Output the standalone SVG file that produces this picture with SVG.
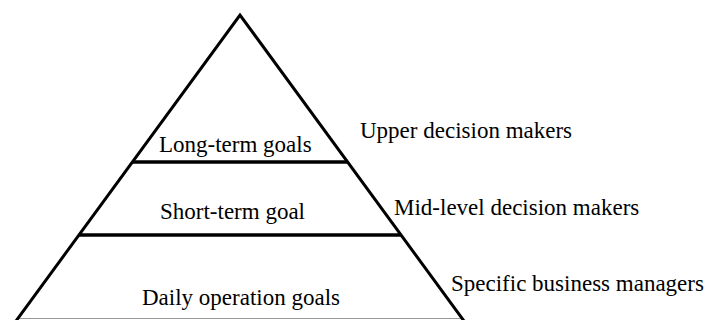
<svg xmlns="http://www.w3.org/2000/svg" width="707" height="320" viewBox="0 0 707 320">
  <style>
    .edge { fill: none; stroke: #000; stroke-width: 3; stroke-linejoin: miter; stroke-linecap: butt; }
    .tier { stroke: #000; stroke-width: 3.5; }
    .base { stroke: #9a9a9a; stroke-width: 1; }
    .lbl { font-family: "Liberation Serif", "Times New Roman", serif; font-size: 23px; fill: #000; }
  </style>
  <rect width="707" height="320" fill="#fff"/>

  <!-- pyramid outline and tier dividers -->
  <g id="connectors">
    <line class="base" x1="16" y1="318.5" x2="463" y2="318.5"/>
    <polyline class="edge" points="16,321 240,15 464,321"/>
    <line class="tier" x1="132" y1="162" x2="348" y2="162"/>
    <line class="tier" x1="79" y1="235" x2="401" y2="235"/>
  </g>

  <g id="tier-top">
    <text class="lbl" x="159" y="152">Long-term goals</text>
  </g>
  <g id="tier-middle">
    <text class="lbl" x="160" y="219">Short-term goal</text>
  </g>
  <g id="tier-bottom">
    <text class="lbl" x="142" y="305">Daily operation goals</text>
  </g>

  <g id="role-upper">
    <text class="lbl" x="360" y="138">Upper decision makers</text>
  </g>
  <g id="role-middle">
    <text class="lbl" x="394" y="215">Mid-level decision makers</text>
  </g>
  <g id="role-specific">
    <text class="lbl" x="451" y="291">Specific business managers</text>
  </g>
</svg>
